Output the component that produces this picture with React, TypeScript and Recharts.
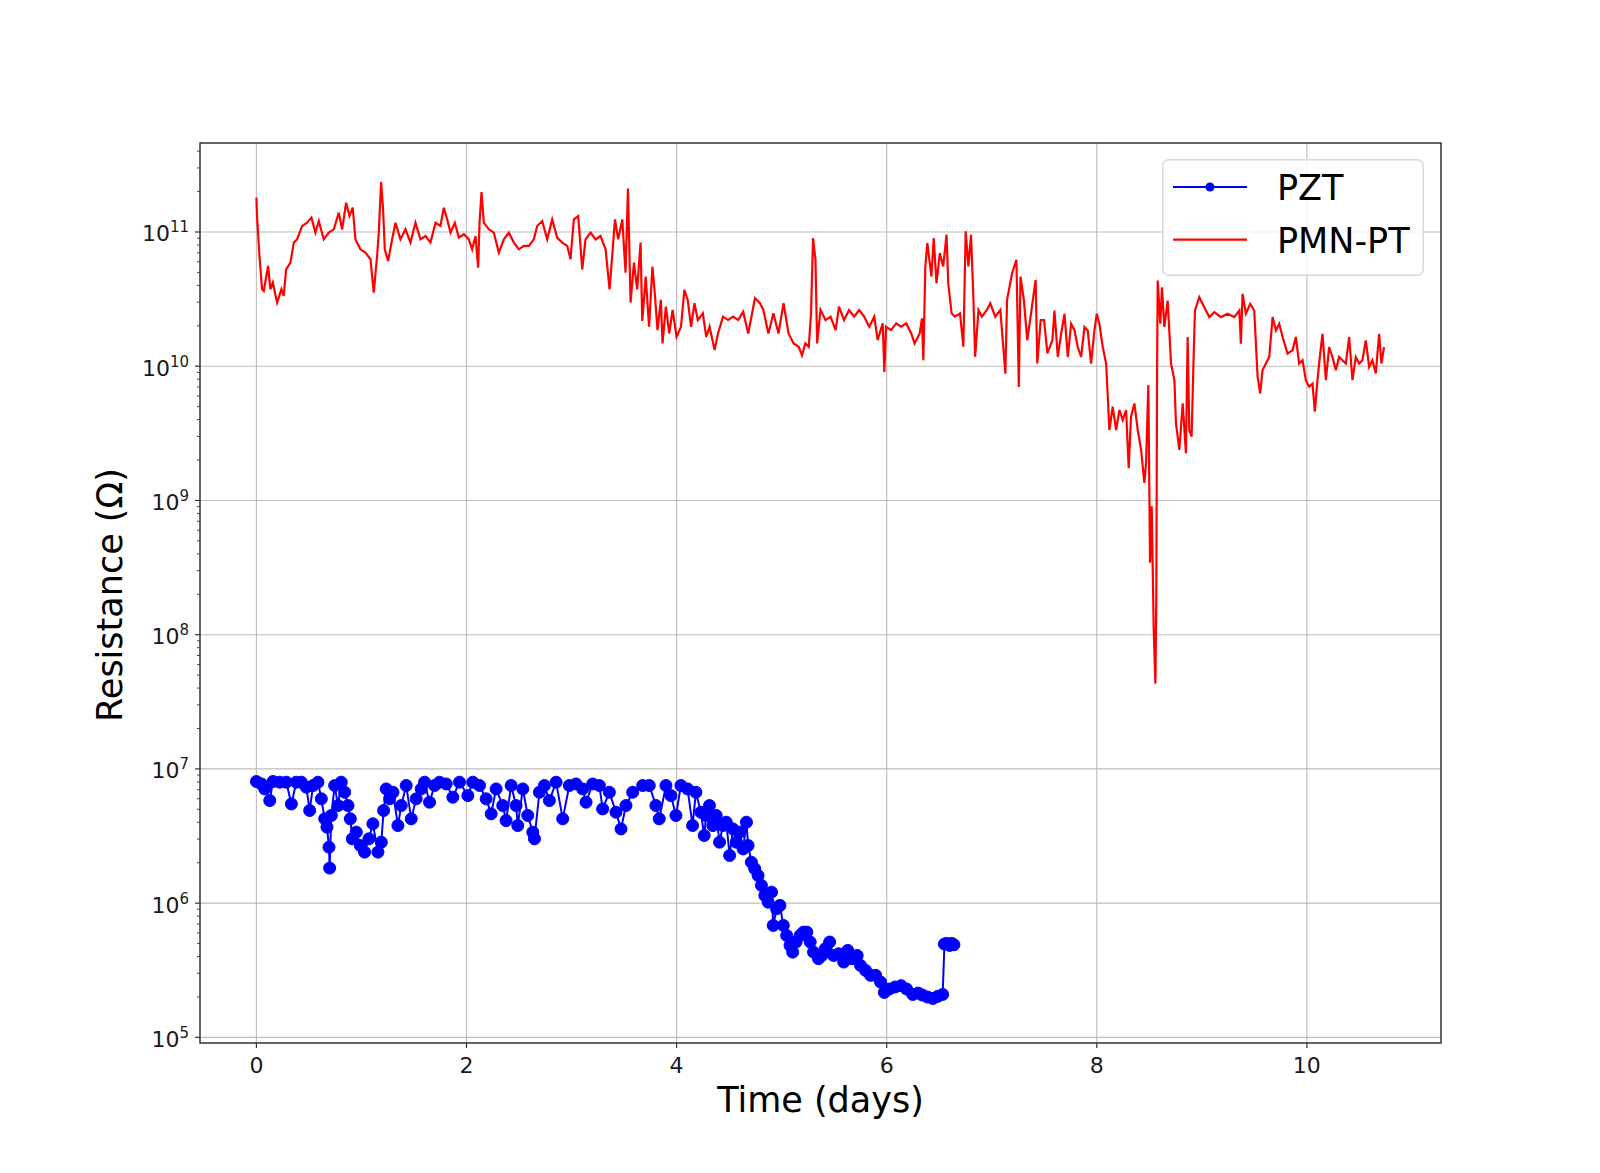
import React from 'react';
import { LineChart, Line, XAxis, YAxis, CartesianGrid, Legend, ReferenceArea } from 'recharts';

// Time in days, resistance stored as log10(R / Ω)
const pmnDays = [
  0.0, 0.006, 0.029, 0.054, 0.07, 0.111, 0.133, 0.156, 0.197, 0.238, 0.26, 0.283, 0.324, 0.356, 0.387, 0.435,
  0.483, 0.524, 0.562, 0.594, 0.641, 0.689, 0.737, 0.784, 0.816, 0.854, 0.886, 0.917, 0.943, 0.99, 1.038, 1.086,
  1.117, 1.149, 1.165, 1.187, 1.206, 1.222, 1.254, 1.292, 1.324, 1.371, 1.419, 1.467, 1.514, 1.562, 1.61, 1.657,
  1.705, 1.752, 1.784, 1.816, 1.848, 1.889, 1.927, 1.975, 2.022, 2.054, 2.086, 2.111, 2.124, 2.143, 2.165, 2.213,
  2.26, 2.308, 2.356, 2.403, 2.451, 2.498, 2.546, 2.594, 2.641, 2.673, 2.721, 2.768, 2.816, 2.863, 2.911, 2.959,
  2.99, 3.022, 3.063, 3.102, 3.133, 3.181, 3.229, 3.276, 3.324, 3.362, 3.387, 3.413, 3.444, 3.483, 3.514, 3.537,
  3.562, 3.594, 3.625, 3.657, 3.673, 3.706, 3.738, 3.77, 3.795, 3.818, 3.85, 3.866, 3.898, 3.93, 3.962, 4.0,
  4.042, 4.074, 4.106, 4.138, 4.17, 4.202, 4.25, 4.282, 4.314, 4.362, 4.394, 4.442, 4.49, 4.538, 4.586, 4.634,
  4.682, 4.746, 4.794, 4.826, 4.874, 4.922, 4.97, 5.018, 5.066, 5.114, 5.162, 5.194, 5.226, 5.258, 5.28, 5.299,
  5.322, 5.338, 5.37, 5.418, 5.466, 5.514, 5.546, 5.594, 5.642, 5.69, 5.738, 5.786, 5.834, 5.882, 5.914, 5.962,
  5.978, 5.994, 6.042, 6.09, 6.138, 6.186, 6.234, 6.266, 6.314, 6.336, 6.349, 6.368, 6.387, 6.426, 6.448, 6.474,
  6.506, 6.538, 6.57, 6.586, 6.618, 6.65, 6.698, 6.73, 6.752, 6.778, 6.803, 6.826, 6.842, 6.874, 6.906, 6.954,
  6.986, 7.034, 7.082, 7.13, 7.146, 7.194, 7.235, 7.258, 7.274, 7.306, 7.338, 7.37, 7.418, 7.434, 7.466, 7.498,
  7.53, 7.578, 7.597, 7.629, 7.661, 7.693, 7.724, 7.756, 7.788, 7.819, 7.851, 7.883, 7.914, 7.946, 7.978, 8.0,
  8.025, 8.057, 8.089, 8.105, 8.12, 8.152, 8.184, 8.216, 8.247, 8.279, 8.304, 8.326, 8.358, 8.39, 8.422, 8.453,
  8.469, 8.491, 8.507, 8.523, 8.542, 8.558, 8.567, 8.574, 8.58, 8.605, 8.621, 8.643, 8.675, 8.707, 8.739, 8.754,
  8.786, 8.818, 8.849, 8.865, 8.881, 8.903, 8.922, 8.935, 8.976, 9.024, 9.071, 9.119, 9.182, 9.246, 9.309, 9.357,
  9.372, 9.388, 9.42, 9.461, 9.499, 9.531, 9.556, 9.578, 9.61, 9.642, 9.674, 9.705, 9.737, 9.769, 9.816, 9.864,
  9.895, 9.927, 9.959, 9.99, 10.022, 10.054, 10.076, 10.101, 10.127, 10.149, 10.181, 10.212, 10.244, 10.276,
  10.307, 10.339, 10.371, 10.403, 10.434, 10.466, 10.498, 10.529, 10.561, 10.593, 10.624, 10.656, 10.688, 10.71,
  10.735,
];
const pmnLogR = [
  11.256, 11.119, 10.821, 10.573, 10.561, 10.747, 10.573, 10.623, 10.474, 10.573, 10.524, 10.722, 10.772, 10.921,
  10.945, 11.045, 11.069, 11.107, 10.995, 11.082, 10.945, 10.995, 11.02, 11.144, 11.02, 11.218, 11.119, 11.181,
  10.945, 10.871, 10.846, 10.797, 10.548, 10.821, 10.995, 11.372, 11.169, 10.871, 10.784, 10.945, 11.069, 10.945,
  11.02, 10.921, 11.069, 10.945, 10.97, 10.921, 11.069, 11.045, 11.181, 11.094, 10.995, 11.069, 10.958, 10.983,
  10.945, 10.871, 10.97, 10.734, 11.069, 11.298, 11.069, 11.02, 10.995, 10.846, 10.945, 10.995, 10.921, 10.871,
  10.896, 10.896, 10.945, 11.045, 11.082, 10.945, 11.094, 10.958, 10.921, 10.896, 10.797, 11.094, 11.119, 10.722,
  10.945, 10.995, 10.945, 10.97, 10.871, 10.573, 10.821, 11.094, 10.945, 11.094, 10.697, 11.323, 10.474, 10.772,
  10.573, 10.921, 10.337, 10.668, 10.294, 10.743, 10.519, 10.269, 10.494, 10.17, 10.444, 10.244, 10.419, 10.219,
  10.294, 10.569, 10.494, 10.294, 10.469, 10.344, 10.394, 10.219, 10.294, 10.12, 10.244, 10.369, 10.344, 10.369,
  10.344, 10.406, 10.244, 10.506, 10.469, 10.419, 10.244, 10.394, 10.244, 10.469, 10.244, 10.17, 10.145, 10.082,
  10.17, 10.145, 10.394, 10.955, 10.793, 10.17, 10.419, 10.344, 10.369, 10.269, 10.444, 10.344, 10.419, 10.369,
  10.419, 10.369, 10.294, 10.369, 10.195, 10.319, 9.958, 10.294, 10.269, 10.319, 10.294, 10.319, 10.244, 10.17,
  10.244, 10.357, 10.045, 10.743, 10.918, 10.668, 10.955, 10.618, 10.843, 10.743, 10.98, 10.618, 10.394, 10.369,
  10.394, 10.145, 11.005, 10.743, 10.98, 10.494, 10.07, 10.419, 10.369, 10.419, 10.469, 10.369, 10.419, 9.945,
  10.494, 10.693, 10.793, 9.845, 10.668, 10.494, 10.195, 10.369, 10.643, 10.02, 10.344, 10.344, 10.095, 10.195,
  10.415, 10.069, 10.242, 10.391, 10.069, 10.316, 10.267, 10.143, 10.069, 10.292, 10.267, 10.02, 10.267, 10.391,
  10.316, 10.143, 10.02, 9.773, 9.525, 9.698, 9.525, 9.674, 9.6, 9.674, 9.241, 9.624, 9.723, 9.525, 9.377, 9.13,
  9.278, 9.859, 8.536, 8.957, 8.042, 7.634, 8.289, 9.946, 10.638, 10.316, 10.588, 10.292, 10.489, 10.02, 9.896,
  9.575, 9.377, 9.723, 9.352, 10.218, 9.525, 9.476, 10.069, 10.415, 10.514, 10.44, 10.366, 10.403, 10.366, 10.391,
  10.366, 10.415, 10.168, 10.539, 10.391, 10.465, 10.415, 9.921, 9.797, 9.97, 10.02, 10.069, 10.366, 10.267,
  10.316, 10.218, 10.094, 10.119, 10.218, 10.02, 10.045, 9.896, 9.847, 9.871, 9.661, 9.896, 10.094, 10.242, 9.896,
  10.143, 10.069, 9.97, 10.069, 10.045, 10.02, 10.218, 9.896, 10.069, 10.02, 10.045, 10.193, 9.995, 10.045, 9.946,
  10.242, 10.02, 10.143,
];

const pztDays = [
  0.0, 0.048, 0.079, 0.127, 0.158, 0.222, 0.285, 0.333, 0.38, 0.428, 0.475, 0.507, 0.539, 0.586, 0.618, 0.65,
  0.672, 0.691, 0.697, 0.713, 0.745, 0.777, 0.808, 0.84, 0.872, 0.894, 0.913, 0.951, 0.989, 1.03, 1.071, 1.109,
  1.157, 1.189, 1.211, 1.236, 1.268, 1.3, 1.347, 1.379, 1.426, 1.474, 1.521, 1.569, 1.601, 1.648, 1.696, 1.743,
  1.807, 1.87, 1.933, 2.013, 2.06, 2.124, 2.187, 2.235, 2.282, 2.345, 2.377, 2.425, 2.472, 2.488, 2.536, 2.583,
  2.631, 2.647, 2.694, 2.742, 2.789, 2.853, 2.916, 2.979, 3.043, 3.106, 3.138, 3.201, 3.265, 3.296, 3.36, 3.423,
  3.471, 3.518, 3.582, 3.677, 3.74, 3.803, 3.835, 3.899, 3.946, 3.994, 4.041, 4.105, 4.152, 4.184, 4.231, 4.263,
  4.281, 4.313, 4.345, 4.377, 4.409, 4.441, 4.473, 4.505, 4.537, 4.569, 4.601, 4.633, 4.665, 4.681, 4.712, 4.744,
  4.776, 4.808, 4.84, 4.872, 4.904, 4.92, 4.952, 4.984, 5.016, 5.048, 5.08, 5.105, 5.137, 5.176, 5.208, 5.24,
  5.272, 5.304, 5.351, 5.383, 5.415, 5.457, 5.495, 5.543, 5.591, 5.629, 5.671, 5.719, 5.751, 5.799, 5.847, 5.895,
  5.942, 5.978, 6.025, 6.08, 6.137, 6.19, 6.248, 6.3, 6.34, 6.39, 6.44, 6.485, 6.533, 6.55, 6.57, 6.6, 6.62, 6.64,
];
const pztLogR = [
  6.906, 6.888, 6.851, 6.764, 6.906, 6.901, 6.901, 6.739, 6.901, 6.901, 6.864, 6.69, 6.876, 6.901, 6.777, 6.628,
  6.566, 6.417, 6.261, 6.653, 6.876, 6.727, 6.901, 6.826, 6.727, 6.628, 6.479, 6.529, 6.429, 6.38, 6.479, 6.591,
  6.38, 6.454, 6.69, 6.851, 6.777, 6.826, 6.578, 6.727, 6.876, 6.628, 6.777, 6.851, 6.901, 6.752, 6.876, 6.901,
  6.888, 6.789, 6.901, 6.801, 6.901, 6.876, 6.777, 6.665, 6.851, 6.727, 6.615, 6.876, 6.727, 6.578, 6.851, 6.653,
  6.529, 6.479, 6.826, 6.876, 6.764, 6.901, 6.628, 6.876, 6.888, 6.851, 6.752, 6.888, 6.876, 6.702, 6.826, 6.677,
  6.553, 6.727, 6.826, 6.876, 6.876, 6.727, 6.628, 6.876, 6.801, 6.653, 6.876, 6.851, 6.578, 6.826, 6.677, 6.504,
  6.653, 6.727, 6.578, 6.653, 6.454, 6.578, 6.603, 6.355, 6.553, 6.454, 6.529, 6.404, 6.603, 6.429, 6.305, 6.256,
  6.206, 6.132, 6.057, 6.007, 6.082, 5.834, 5.958, 5.983, 5.834, 5.759, 5.685, 5.635, 5.71, 5.759, 5.784, 5.784,
  5.71, 5.635, 5.586, 5.61, 5.66, 5.71, 5.61, 5.623, 5.561, 5.648, 5.586, 5.61, 5.536, 5.499, 5.462, 5.462,
  5.412, 5.335, 5.36, 5.375, 5.385, 5.36, 5.32, 5.33, 5.315, 5.3, 5.29, 5.305, 5.32, 5.695, 5.7, 5.685, 5.7, 5.69,
];

const seriesNames = ['PZT', 'PMN-PT'];
const seriesColors = ['#0000ff', '#ff0000'];

const xTicks = [0, 2, 4, 6, 8, 10];
const yDecades = [5, 6, 7, 8, 9, 10, 11];

const X_DOMAIN: [number, number] = [-0.537, 11.277];
const Y_DOMAIN: [number, number] = [4.958, 11.663];

const FONT = 'DejaVu Sans, sans-serif';

const pztData = pztDays.map((d, i) => ({ day: d, logR: pztLogR[i] }));
const pmnData = pmnDays.map((d, i) => ({ day: d, logR: pmnLogR[i] }));

// log-axis minor ticks (2..9 x 10^n)
const yMinor: number[] = [];
for (let n = 4; n <= 11; n++) {
  for (let k = 2; k <= 9; k++) {
    const v = n + Math.log10(k);
    if (v > Y_DOMAIN[0] && v < Y_DOMAIN[1]) yMinor.push(v);
  }
}
const yTicks = [...yDecades, ...yMinor].sort((a, b) => a - b);

const YTick = ({ x, y, payload }: any) => {
  const v = payload.value;
  const major = Math.abs(v - Math.round(v)) < 1e-6;
  return (
    <g>
      <line x1={x} x2={x - (major ? 5 : 3)} y1={y} y2={y} stroke="#333" strokeWidth={major ? 1.2 : 0.9} />
      {major && (
        <text x={x - 11} y={y + 9.5} textAnchor="end" fontFamily={FONT} fontSize={22} fill="#1a1a1a">
          10
          <tspan dy={-9} fontSize={15}>
            {Math.round(v)}
          </tspan>
        </text>
      )}
    </g>
  );
};

const XTick = ({ x, y, payload }: any) => (
  <g>
    <line x1={x} x2={x} y1={y} y2={y + 5} stroke="#333" strokeWidth={1.2} />
    <text x={x} y={y + 30} textAnchor="middle" fontFamily={FONT} fontSize={22} fill="#1a1a1a">
      {payload.value}
    </text>
  </g>
);

const XLabel = ({ viewBox }: any) => {
  const vb = viewBox || { x: 200, y: 1043, width: 1241, height: 60 };
  return (
    <text x={vb.x + vb.width / 2} y={vb.y + 69} textAnchor="middle" fontFamily={FONT} fontSize={35} fill="#000">
      Time (days)
    </text>
  );
};

const YLabel = ({ viewBox }: any) => {
  const vb = viewBox || { x: 120, y: 143, width: 80, height: 900 };
  const cx = vb.x + 2;
  const cy = vb.y + vb.height / 2 + 2;
  return (
    <text
      x={cx}
      y={cy}
      transform={`rotate(-90 ${cx} ${cy})`}
      textAnchor="middle"
      fontFamily={FONT}
      fontSize={35}
      fill="#000"
    >
      Resistance (Ω)
    </text>
  );
};

const LegendBox = ({ payload }: any) => {
  const items = [...(payload || [])].sort(
    (a: any, b: any) => seriesNames.indexOf(a.value) - seriesNames.indexOf(b.value),
  );
  return (
    <svg width={262} height={117} style={{ display: 'block' }}>
      <rect x={0.75} y={0.75} width={260.5} height={115.5} rx={6} fill="#fff" fillOpacity={0.8} stroke="#d9d9d9" strokeWidth={1.5} />
      {items.map((entry: any, i: number) => {
        const cy = 28 + i * 52.6;
        const hasMarker = entry.value === seriesNames[0];
        return (
          <g key={entry.value}>
            <line x1={11} x2={85} y1={cy} y2={cy} stroke={entry.color} strokeWidth={2.2} />
            {hasMarker && <circle cx={48} cy={cy} r={4.5} fill={entry.color} />}
            <text x={115} y={cy + 13.3} fontFamily={FONT} fontSize={35} fill="#000">
              {entry.value}
            </text>
          </g>
        );
      })}
    </svg>
  );
};

export default function App() {
  return (
    <div style={{ position: 'absolute', left: 0, top: 0, width: 1600, height: 1173, background: '#fff' }}>
      <LineChart width={1600} height={1173} margin={{ top: 143, right: 159, bottom: 70, left: 120 }}>
        <CartesianGrid stroke="#b0b0b0" strokeWidth={1.1} strokeOpacity={0.85} horizontalValues={yDecades} />
        <XAxis
          type="number"
          dataKey="day"
          domain={X_DOMAIN}
          ticks={xTicks}
          interval={0}
          allowDataOverflow
          tick={<XTick />}
          tickSize={0}
          tickMargin={0}
          tickLine={false}
          axisLine={false}
          height={60}
          label={<XLabel />}
        />
        <YAxis
          type="number"
          domain={Y_DOMAIN}
          ticks={yTicks}
          interval={0}
          allowDataOverflow
          tick={<YTick />}
          tickSize={0}
          tickMargin={0}
          tickLine={false}
          axisLine={false}
          width={80}
          label={<YLabel />}
        />
        <Line
          data={pztData}
          dataKey="logR"
          name={seriesNames[0]}
          type="linear"
          stroke={seriesColors[0]}
          strokeWidth={2}
          dot={{ r: 6, fill: seriesColors[0], stroke: seriesColors[0], strokeWidth: 1 }}
          activeDot={false}
          isAnimationActive={false}
        />
        <Line
          data={pmnData}
          dataKey="logR"
          name={seriesNames[1]}
          type="linear"
          stroke={seriesColors[1]}
          strokeWidth={2.2}
          dot={false}
          activeDot={false}
          isAnimationActive={false}
        />
        <ReferenceArea
          x1={X_DOMAIN[0]}
          x2={X_DOMAIN[1]}
          y1={Y_DOMAIN[0]}
          y2={Y_DOMAIN[1]}
          fill="none"
          fillOpacity={0}
          stroke="#333"
          strokeWidth={1.4}
          ifOverflow="visible"
        />
        <Legend
          layout="vertical"
          align="center"
          verticalAlign="middle"
          content={<LegendBox />}
          wrapperStyle={{ left: 1162, top: 159, width: 262, height: 117 }}
        />
      </LineChart>
    </div>
  );
}
